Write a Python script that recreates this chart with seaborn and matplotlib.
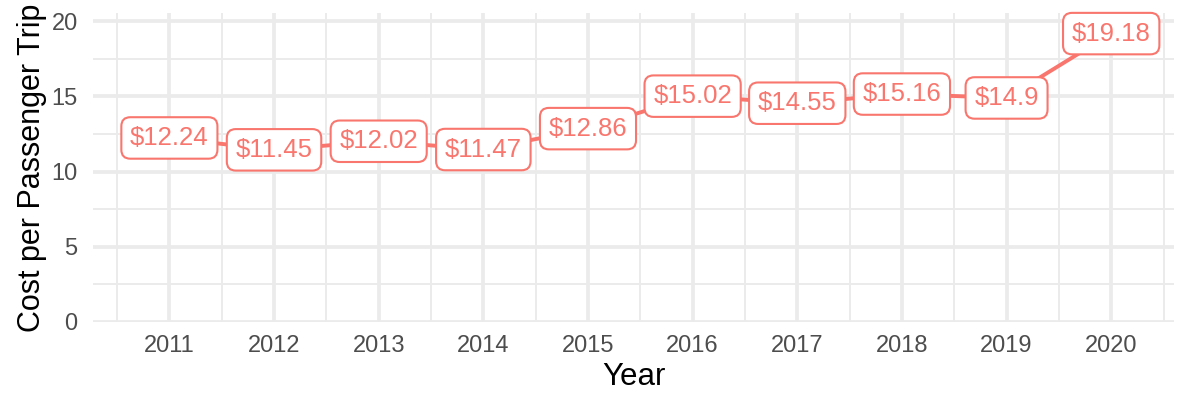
import matplotlib
matplotlib.use("Agg")
import matplotlib.pyplot as plt
import seaborn as sns
import pandas as pd
import numpy as np

years = [2011, 2012, 2013, 2014, 2015, 2016, 2017, 2018, 2019, 2020]
cost = [12.24, 11.45, 12.02, 11.47, 12.86, 15.02, 14.55, 15.16, 14.9, 19.18]
cost_labels = ["$12.24", "$11.45", "$12.02", "$11.47", "$12.86",
               "$15.02", "$14.55", "$15.16", "$14.9", "$19.18"]
y_ticks = [0, 5, 10, 15, 20]

df = pd.DataFrame({"Year": years, "Cost": cost, "Label": cost_labels})

sns.set_style("white")
plt.rcParams["font.family"] = ["Liberation Sans", "DejaVu Sans"]

line_color = "#F8766D"
grid_color = "#EBEBEB"

fig = plt.figure(figsize=(11.79, 3.93), dpi=100)
ax = fig.add_axes([93 / 1179, 71 / 393, (1174 - 93) / 1179, (322 - 13) / 393])

# gridlines (major + minor)
for yv in np.arange(0, 20.01, 5):
    ax.axhline(yv, color=grid_color, lw=2.7, zorder=0)
for yv in np.arange(2.5, 20, 5):
    ax.axhline(yv, color=grid_color, lw=1.4, zorder=0)
for xv in years:
    ax.axvline(xv, color=grid_color, lw=2.7, zorder=0)
for xv in np.arange(2010.5, 2021, 1.0):
    ax.axvline(xv, color=grid_color, lw=1.4, zorder=0)

sns.lineplot(data=df, x="Year", y="Cost", color=line_color, linewidth=2.8,
             ax=ax, zorder=2)

for _, row in df.iterrows():
    ax.text(row["Year"], row["Cost"], row["Label"].replace("$", "\\$"),
            ha="center", va="center", fontsize=18.5, color=line_color, zorder=3,
            bbox=dict(boxstyle="round,pad=0.34,rounding_size=0.35",
                      fc="white", ec=line_color, lw=1.5))

ax.set_xlim(2010.27, 2020.60)
ax.set_ylim(0, 20.55)
ax.set_xticks(years)
ax.set_xticklabels([str(y) for y in years])
ax.set_yticks(y_ticks)
ax.tick_params(axis="both", length=0, labelsize=17, labelcolor="#4D4D4D")
ax.tick_params(axis="x", pad=9)
ax.tick_params(axis="y", pad=11)
ax.set_xlabel("Year", fontsize=22.5, color="black", labelpad=4)
ax.set_ylabel("Cost per Passenger Trip", fontsize=22, color="black", labelpad=3)
for s in ax.spines.values():
    s.set_visible(False)
ax.grid(False)

fig.savefig("out.png", dpi=100)
